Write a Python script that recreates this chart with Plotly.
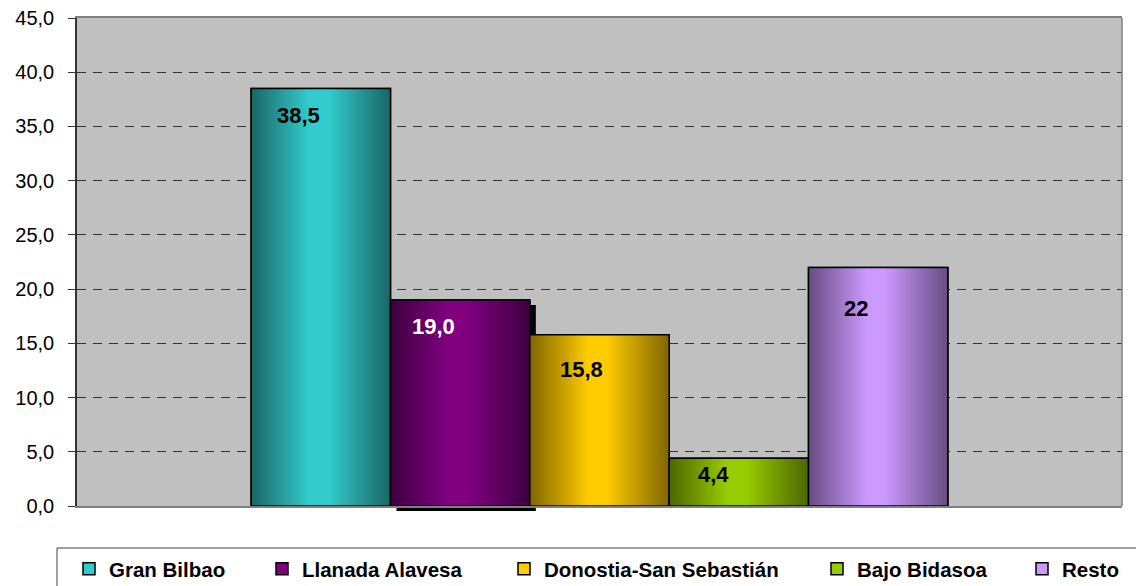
import plotly.graph_objects as go

# Share of the population by area (%)
regions = ["Gran Bilbao", "Llanada Alavesa", "Donostia-San Sebastián", "Bajo Bidasoa", "Resto"]
values = [38.5, 19.0, 15.8, 4.4, 22.0]
labels = ["38,5", "19,0", "15,8", "4,4", "22"]
y_ticks = [0, 5, 10, 15, 20, 25, 30, 35, 40, 45]

# Colours: bright centre and darker edge of each bar's horizontal gradient
light = ["#33CCCC", "#800080", "#FFCC00", "#99CC00", "#CC99FF"]
dark = ["#1A6666", "#3D003F", "#806600", "#4D6600", "#664D80"]
label_colors = ["black", "white", "black", "black", "black"]
# Label placement relative to the top centre of each bar (pixels)
label_dx = [-22, -27, -18, -25, -22]
label_dy = [27, 27, 35, 16, 41]
# Left edge of each legend entry (pixels from the figure's left side)
legend_left_px = [69, 262, 504, 817, 1022]

FONT = "Liberation Sans, Arial, sans-serif"
W, H = 1136, 586
M = dict(l=77, r=14, t=18, b=80, autoexpand=False)
plot_w = W - M["l"] - M["r"]
plot_h = H - M["t"] - M["b"]
Y_MAX = 45

BARGAP = 1 / 3
n = len(regions)
bar_w = (1 - BARGAP) / n


def bar_span(i):
    left = -(1 - BARGAP) / 2 + i * bar_w
    return left, left + bar_w


fig = go.Figure()

# Bars (grouped at a single position) carry the data and the legend swatches;
# each series gets its own legend box so the entries can be spread out
for i, name in enumerate(regions):
    fig.add_trace(go.Bar(
        x=[0], y=[values[i]], name=name,
        legend="legend" if i == 0 else f"legend{i + 1}",
        marker=dict(color=light[i], line=dict(color="black", width=1.5)),
        hoverinfo="name+y",
    ))

# Cylinder-like shading: horizontal gradient over each bar's footprint
for i, v in enumerate(values):
    x0, x1 = bar_span(i)
    fig.add_trace(go.Scatter(
        x=[x0, x1, x1, x0, x0], y=[0, 0, v, v, 0],
        mode="lines", fill="toself",
        fillgradient=dict(type="horizontal",
                          colorscale=[[0, dark[i]], [0.42, light[i]],
                                      [0.55, light[i]], [1, dark[i]]]),
        line=dict(color="black", width=1.5),
        showlegend=False, hoverinfo="skip",
    ))

# Value labels
annotations = []
for i, v in enumerate(values):
    x0, x1 = bar_span(i)
    annotations.append(dict(
        x=(x0 + x1) / 2, y=v, xref="x", yref="y",
        text=labels[i], showarrow=False,
        xanchor="center", yanchor="middle",
        xshift=label_dx[i], yshift=-label_dy[i],
        font=dict(family=FONT, size=22, color=label_colors[i], weight="bold"),
    ))

# Drop shadow behind the second bar
sx0, sx1 = bar_span(1)
dx_units = 6 / plot_w
dy_paper = 5 / plot_h
shapes = [
    dict(type="rect", xref="x", yref="paper", layer="below",
         x0=sx0 + dx_units, x1=sx1 + dx_units,
         y0=-dy_paper, y1=values[1] / Y_MAX - dy_paper,
         fillcolor="black", line=dict(width=0)),
    # right edge of the plot frame
    dict(type="line", xref="paper", yref="paper", x0=1, x1=1, y0=0, y1=1,
         line=dict(color="#808080", width=1.5)),
    # legend frame
    dict(type="rect", xref="paper", yref="paper",
         x0=(57 - M["l"]) / plot_w, x1=1.05,
         y0=-(548 - (H - M["b"])) / plot_h, y1=-0.3,
         line=dict(color="#404040", width=1), fillcolor="rgba(0,0,0,0)"),
]

legend_y = -(569 - (H - M["b"])) / plot_h
legend_style = dict(
    orientation="h", xanchor="left", y=legend_y, yanchor="middle",
    font=dict(family=FONT, size=20.5, weight="bold", color="black"),
    bgcolor="rgba(0,0,0,0)", itemclick=False, itemdoubleclick=False,
)
legends = {}
for i, px in enumerate(legend_left_px):
    key = "legend" if i == 0 else f"legend{i + 1}"
    legends[key] = dict(legend_style, x=(px - M["l"]) / plot_w)

fig.update_layout(
    width=W, height=H, margin=M,
    paper_bgcolor="white", plot_bgcolor="#C0C0C0",
    barmode="group", bargap=BARGAP, bargroupgap=0,
    separators=",.",
    font=dict(family=FONT, color="black"),
    showlegend=True,
    annotations=annotations,
    shapes=shapes,
    xaxis=dict(range=[-0.5, 0.5], showticklabels=False, ticks="",
               showgrid=False, zeroline=False,
               showline=True, mirror=True, linecolor="#808080", linewidth=1.5),
    yaxis=dict(range=[0, Y_MAX], tickvals=y_ticks, tickformat=".1f",
               ticks="outside", ticklen=7, tickcolor="#333333", tickwidth=1,
               ticklabelstandoff=10,
               showline=True, linecolor="#333333", linewidth=1.5,
               showgrid=True, gridcolor="#333333", gridwidth=1, griddash="9px,7px",
               zeroline=False,
               tickfont=dict(family=FONT, size=20, color="black")),
    **legends,
)

fig.write_html("out.html")
